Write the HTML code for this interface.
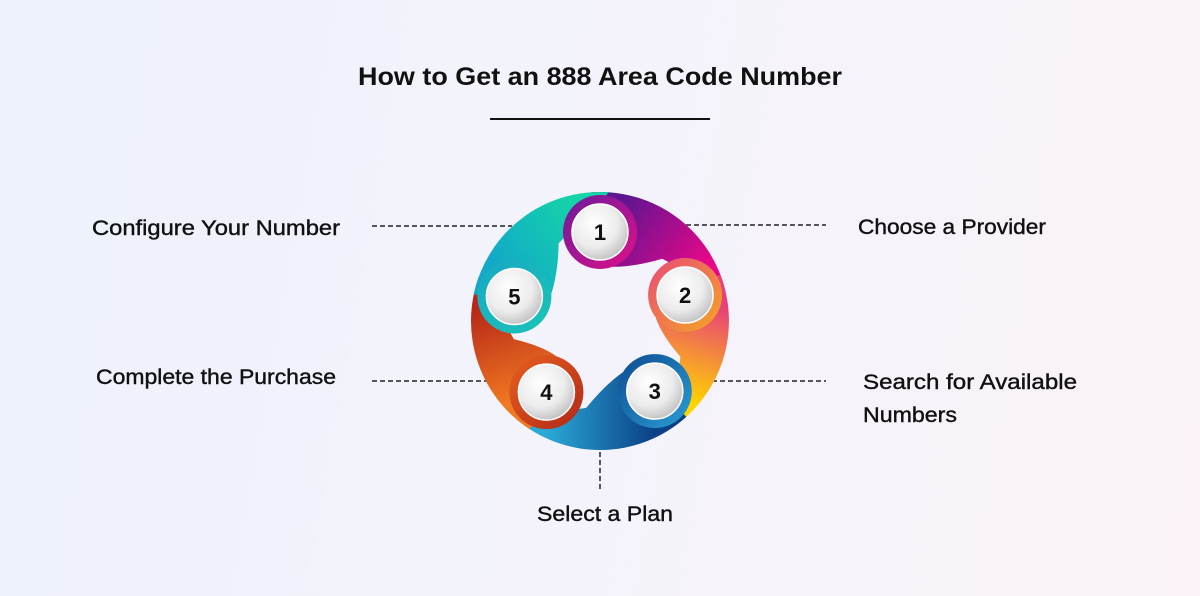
<!DOCTYPE html>
<html><head><meta charset="utf-8"><style>
html,body{margin:0;padding:0;width:1200px;height:596px;overflow:hidden}
body{background:linear-gradient(100deg,#edf2fb 0%,#f4f3fb 50%,#fbf3f8 100%)}
text{font-family:"Liberation Sans",sans-serif;fill:#111}
</style></head><body>
<svg id="s" width="1200" height="596" viewBox="0 0 1200 596" xmlns="http://www.w3.org/2000/svg">
<defs>
<radialGradient id="wh" cx="40%" cy="35%" r="70%"><stop offset="0" stop-color="#ffffff"/><stop offset="0.6" stop-color="#ececec"/><stop offset="1" stop-color="#bdbdbd"/></radialGradient>
</defs>
<text x="600" y="85" text-anchor="middle" font-size="25" font-weight="bold" textLength="484" lengthAdjust="spacingAndGlyphs">How to Get an 888 Area Code Number</text>
<line x1="490" y1="119" x2="710" y2="119" stroke="#111" stroke-width="2"/>
<g stroke="#222" stroke-width="1.5" stroke-dasharray="5,3">
<line x1="372" y1="226" x2="512" y2="226"/>
<line x1="686" y1="225" x2="826" y2="225"/>
<line x1="372" y1="381" x2="490" y2="381"/>
<line x1="712" y1="381" x2="826" y2="381"/>
<line x1="600" y1="452" x2="600" y2="490"/>
</g>
<g font-size="21" stroke="#111" stroke-width="0.4">
<text x="92" y="235" textLength="248" lengthAdjust="spacingAndGlyphs">Configure Your Number</text>
<text x="96" y="384" textLength="240" lengthAdjust="spacingAndGlyphs">Complete the Purchase</text>
<text x="858" y="234" textLength="188" lengthAdjust="spacingAndGlyphs">Choose a Provider</text>
<text x="863" y="389" textLength="214" lengthAdjust="spacingAndGlyphs">Search for Available</text>
<text x="863" y="422" textLength="94" lengthAdjust="spacingAndGlyphs">Numbers</text>
<text x="537" y="521" textLength="136" lengthAdjust="spacingAndGlyphs">Select a Plan</text>
</g>
<g id="d"></g>
</svg>
<script>
var cx=600,cy=321,R=129,rc=89;
var ang=[-90,-17,52,127,196];
var cols=[["#5e1590","#e8078a"],["#e8407a","#ffd400"],["#0b3f86","#2aa8d6"],["#f07a20","#b8281a"],["#12a8c8","#14d4a8"]];
var ccol=[["#6a1b9a","#e0108a"],["#e84a7a","#f5a623"],["#0c4a90","#2b9fd4"],["#e8601e","#b02818"],["#17a8c4","#1bc4b6"]];
var g=document.getElementById('d'),defs=document.querySelector('defs');
function P(r,a){a=a*Math.PI/180;return [(cx+r*Math.cos(a)).toFixed(1),(cy+r*Math.sin(a)).toFixed(1)];}
var h='',dh='';
for(var i=0;i<5;i++){
 var a=ang[i],b=ang[(i+1)%5];if(b<a)b+=360;
 var s0=P(60,a-4),s=P(R,a-4),e=P(R,b+4),p1=P(88,b-28),c=P(64,(a+b)/2-4),p2=P(56,a+14);
 var gs=P(rc,a),ge=P(rc,b);
 dh+='<linearGradient id="g'+i+'" gradientUnits="userSpaceOnUse" x1="'+gs[0]+'" y1="'+gs[1]+'" x2="'+ge[0]+'" y2="'+ge[1]+'"><stop offset="0" stop-color="'+cols[i][0]+'"/><stop offset="1" stop-color="'+cols[i][1]+'"/></linearGradient>';
 dh+='<linearGradient id="c'+i+'" x1="0" y1="0" x2="1" y2="1"><stop offset="0" stop-color="'+ccol[i][0]+'"/><stop offset="1" stop-color="'+ccol[i][1]+'"/></linearGradient>';
 h+='<path d="M'+s0+' L'+s+' A'+R+','+R+' 0 0 1 '+e+' L'+p1+' Q'+c+' '+p2+' Z" fill="url(#g'+i+')"/>';
}
for(var i=0;i<5;i++){
 var q=P(rc,ang[i]);
 h+='<circle cx="'+q[0]+'" cy="'+q[1]+'" r="37" fill="url(#c'+i+')"/>';
 h+='<circle cx="'+q[0]+'" cy="'+q[1]+'" r="28" fill="url(#wh)" stroke="#fff" stroke-width="1.5"/>';
 h+='<text x="'+q[0]+'" y="'+(+q[1]+8)+'" text-anchor="middle" font-size="22" font-weight="bold">'+(i+1)+'</text>';
}
defs.innerHTML+=dh;g.innerHTML=h;
</script>
</body></html>
